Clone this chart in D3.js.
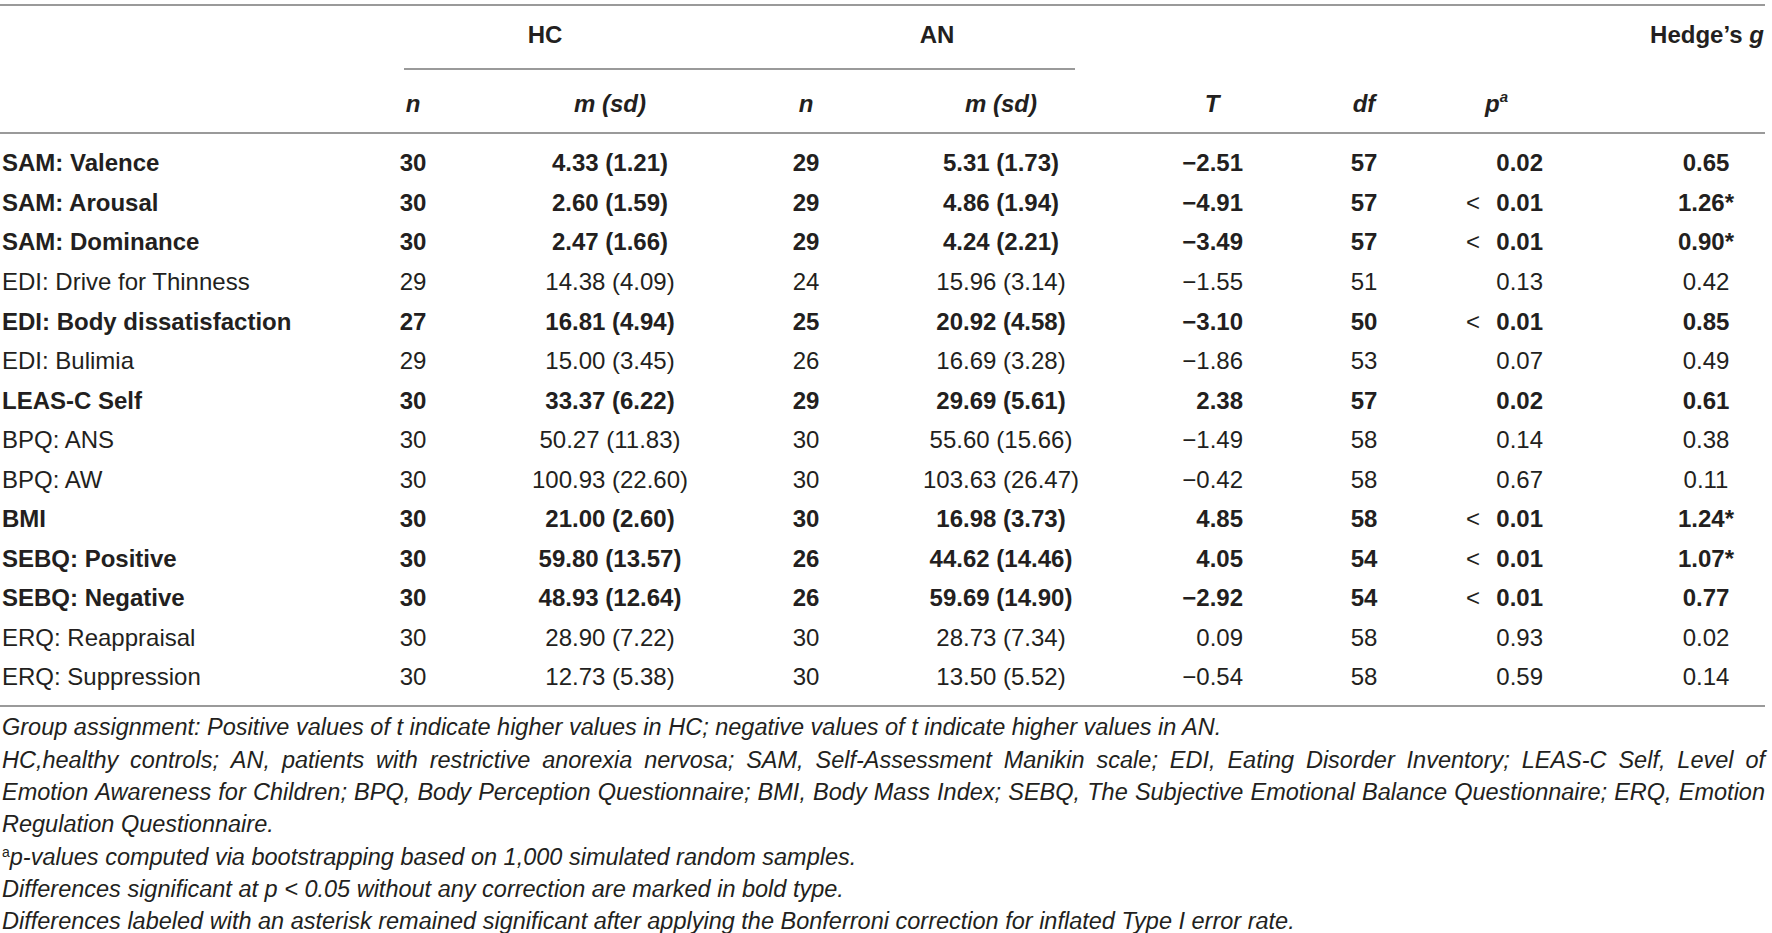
<!DOCTYPE html>
<html>
<head>
<meta charset="utf-8">
<script src="https://cdn.jsdelivr.net/npm/d3@7"></script>
<style>
  body { margin: 0; background: #fff; }
  svg text { font-family: "Liberation Sans", Arial, sans-serif; fill: #231f20; }
</style>
</head>
<body>
<svg id="table" width="1772" height="933"></svg>
<script>
// table data
const rowLabels = ["SAM: Valence", "SAM: Arousal", "SAM: Dominance", "EDI: Drive for Thinness", "EDI: Body dissatisfaction",
  "EDI: Bulimia", "LEAS-C Self", "BPQ: ANS", "BPQ: AW", "BMI", "SEBQ: Positive", "SEBQ: Negative", "ERQ: Reappraisal", "ERQ: Suppression"]
const hcN = [30, 30, 30, 29, 27, 29, 30, 30, 30, 30, 30, 30, 30, 30]
const hcMean = [4.33, 2.60, 2.47, 14.38, 16.81, 15.00, 33.37, 50.27, 100.93, 21.00, 59.80, 48.93, 28.90, 12.73]
const hcSd = [1.21, 1.59, 1.66, 4.09, 4.94, 3.45, 6.22, 11.83, 22.60, 2.60, 13.57, 12.64, 7.22, 5.38]
const anN = [29, 29, 29, 24, 25, 26, 29, 30, 30, 30, 26, 26, 30, 30]
const anMean = [5.31, 4.86, 4.24, 15.96, 20.92, 16.69, 29.69, 55.60, 103.63, 16.98, 44.62, 59.69, 28.73, 13.50]
const anSd = [1.73, 1.94, 2.21, 3.14, 4.58, 3.28, 5.61, 15.66, 26.47, 3.73, 14.46, 14.90, 7.34, 5.52]
const tValues = [-2.51, -4.91, -3.49, -1.55, -3.10, -1.86, 2.38, -1.49, -0.42, 4.85, 4.05, -2.92, 0.09, -0.54]
const dfValues = [57, 57, 57, 51, 50, 53, 57, 58, 58, 58, 54, 54, 58, 58]
const pValues = [0.02, 0.01, 0.01, 0.13, 0.01, 0.07, 0.02, 0.14, 0.67, 0.01, 0.01, 0.01, 0.93, 0.59]
const pBelow = [false, true, true, false, true, false, false, false, false, true, true, true, false, false]
const hedgesG = [0.65, 1.26, 0.90, 0.42, 0.85, 0.49, 0.61, 0.38, 0.11, 1.24, 1.07, 0.77, 0.02, 0.14]
const bonferroni = [false, true, true, false, false, false, false, false, false, true, true, false, false, false]
const significant = [true, true, true, false, true, false, true, false, false, true, true, true, false, false]

const footnotes = [
  { text: "Group assignment: Positive values of t indicate higher values in HC; negative values of t indicate higher values in AN.", justify: false },
  { text: "HC,healthy controls; AN, patients with restrictive anorexia nervosa; SAM, Self-Assessment Manikin scale; EDI, Eating Disorder Inventory; LEAS-C Self, Level of", justify: true },
  { text: "Emotion Awareness for Children; BPQ, Body Perception Questionnaire; BMI, Body Mass Index; SEBQ, The Subjective Emotional Balance Questionnaire; ERQ, Emotion", justify: true },
  { text: "Regulation Questionnaire.", justify: false },
  { text: "p-values computed via bootstrapping based on 1,000 simulated random samples.", justify: false, sup: "a" },
  { text: "Differences significant at p < 0.05 without any correction are marked in bold type.", justify: false },
  { text: "Differences labeled with an asterisk remained significant after applying the Bonferroni correction for inflated Type I error rate.", justify: false }
]

const fmt = d3.format(".2f")
const minus = v => (v < 0 ? "\u2212" : "") + fmt(Math.abs(v))

const svg = d3.select("#table")
const tableWidth = 1765
const fontSize = 24
const noteSize = 23.5

// column anchors
const col = { label: 2, hcN: 413, hcM: 610, anN: 806, anM: 1001, t: 1243, tHead: 1212, df: 1364, pLess: 1466, p: 1543, pHead: 1485, g: 1706 }

// row scale
const y = d3.scaleLinear().domain([0, rowLabels.length - 1]).range([163, 677])

// rules
const rule = (x1, x2, yy) => svg.append("line").attr("x1", x1).attr("x2", x2).attr("y1", yy).attr("y2", yy)
  .attr("stroke", "#9a9a9a").attr("stroke-width", 2)
rule(0, tableWidth, 5)
rule(404, 1075, 69)
rule(0, tableWidth, 133)
rule(0, tableWidth, 706)

// header
const head = (x, yy, txt, anchor, italic) => svg.append("text").attr("x", x).attr("y", yy).attr("dy", "0.35em")
  .attr("text-anchor", anchor).style("font-size", fontSize + "px").style("font-weight", "bold")
  .style("font-style", italic ? "italic" : "normal").text(txt)
head(545, 35, "HC", "middle", false)
head(937, 35, "AN", "middle", false)
const hg = head(1707, 35, "Hedge\u2019s ", "middle", false)
hg.append("tspan").style("font-style", "italic").text("g")
head(col.hcN, 104, "n", "middle", true)
head(col.hcM, 104, "m (sd)", "middle", true)
head(col.anN, 104, "n", "middle", true)
head(col.anM, 104, "m (sd)", "middle", true)
head(col.tHead, 104, "T", "middle", true)
head(col.df, 104, "df", "middle", true)
const ph = head(col.pHead, 104, "p", "start", true)
ph.append("tspan").attr("dy", "-10").style("font-size", "15px").text("a")

// body rows
const rows = svg.append("g").selectAll("g")
  .data(d3.range(rowLabels.length))
  .join("g")
  .attr("transform", i => `translate(0,${y(i)})`)
  .style("font-size", fontSize + "px")
  .style("font-weight", i => significant[i] ? "bold" : "normal")

const cell = (x, anchor, f) => rows.append("text").attr("x", x).attr("dy", "0.35em").attr("text-anchor", anchor).text(f)
cell(col.label, "start", i => rowLabels[i])
cell(col.hcN, "middle", i => hcN[i])
cell(col.hcM, "middle", i => `${fmt(hcMean[i])} (${fmt(hcSd[i])})`)
cell(col.anN, "middle", i => anN[i])
cell(col.anM, "middle", i => `${fmt(anMean[i])} (${fmt(anSd[i])})`)
cell(col.t, "end", i => minus(tValues[i]))
cell(col.df, "middle", i => dfValues[i])
cell(col.pLess, "start", i => pBelow[i] ? "<" : "").style("font-weight", "normal")
cell(col.p, "end", i => fmt(pValues[i]))
cell(col.g, "middle", i => fmt(hedgesG[i]) + (bonferroni[i] ? "*" : ""))

// footnotes (y is the baseline)
const fy = d3.scaleLinear().domain([0, footnotes.length - 1]).range([727, 921])
footnotes.forEach((fn, i) => {
  const t = svg.append("text").attr("x", 2).attr("y", fy(i) + 0.35 * noteSize)
    .style("font-size", noteSize + "px").style("font-style", "italic")
  if (fn.sup) {
    t.append("tspan").style("font-style", "normal").style("font-size", "14px").attr("dy", "-8").text(fn.sup)
    t.append("tspan").attr("dy", "8").text(fn.text)
  } else if (fn.justify) {
    const words = fn.text.split(" ")
    const spans = words.map(w => t.append("tspan").text(w))
    const widths = spans.map(s => s.node().getComputedTextLength())
    const gap = (tableWidth - 2 - d3.sum(widths)) / (words.length - 1)
    let x = 2
    spans.forEach((s, k) => { s.attr("x", x); x += widths[k] + gap })
  } else {
    t.text(fn.text)
  }
})
</script>
</body>
</html>
